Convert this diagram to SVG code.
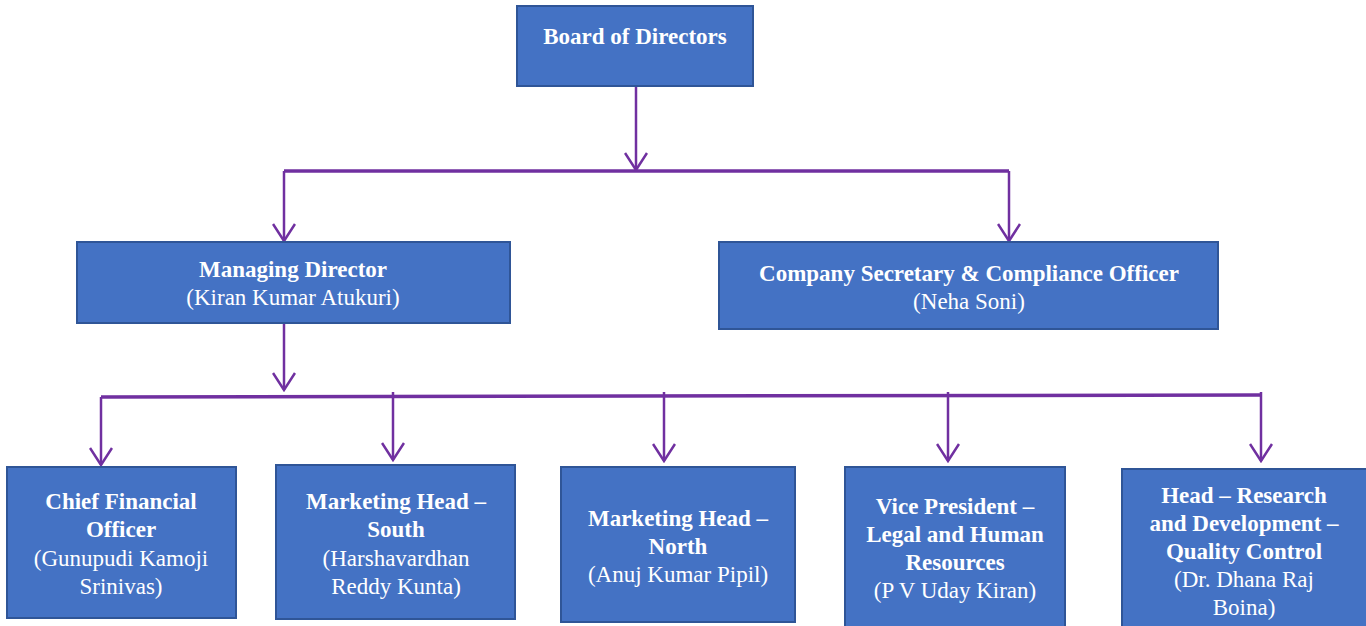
<svg xmlns="http://www.w3.org/2000/svg" width="1366" height="626" viewBox="0 0 1366 626" font-family="Liberation Serif, Times New Roman, serif">
<style>
.box{fill:#4472C4;stroke:#2F5597;stroke-width:2}
.t{font-size:23px;fill:#FFFFFF;text-anchor:middle}
.b{font-weight:bold}
.c{fill:none;stroke:#7030A0;stroke-width:2.5}
.h{fill:none;stroke:#7030A0;stroke-width:3.5}
</style>
<defs>
<marker id="arr" viewBox="0 0 20 24" markerWidth="20" markerHeight="24" refX="18" refY="12" orient="auto" markerUnits="userSpaceOnUse">
<polyline points="1,1 18,12 1,23" fill="none" stroke="#7030A0" stroke-width="2.5"/>
</marker>
</defs>
<rect width="1366" height="626" fill="#FFFFFF"/>
<g id="connectors">
<line class="c" x1="636" y1="86" x2="636" y2="170" marker-end="url(#arr)"/>
<line class="h" x1="284" y1="171" x2="1009" y2="171"/>
<line class="c" x1="284" y1="171" x2="284" y2="241" marker-end="url(#arr)"/>
<line class="c" x1="1009" y1="171" x2="1009" y2="241" marker-end="url(#arr)"/>
<line class="c" x1="284" y1="323" x2="284" y2="390" marker-end="url(#arr)"/>
<line class="h" x1="101" y1="397" x2="1261" y2="395"/>
<line class="c" x1="101" y1="397" x2="101" y2="465" marker-end="url(#arr)"/>
<line class="c" x1="393" y1="392" x2="393" y2="460" marker-end="url(#arr)"/>
<line class="c" x1="664" y1="392" x2="664" y2="461" marker-end="url(#arr)"/>
<line class="c" x1="948" y1="392" x2="948" y2="461" marker-end="url(#arr)"/>
<line class="c" x1="1261" y1="392" x2="1261" y2="461" marker-end="url(#arr)"/>
</g>
<g id="board">
<rect class="box" x="517" y="6" width="236" height="80"/>
<text class="t b" x="635" y="44">Board of Directors</text>
</g>
<g id="md">
<rect class="box" x="77" y="242" width="433" height="81"/>
<text class="t b" x="293" y="277">Managing Director</text>
<text class="t" x="293" y="305">(Kiran Kumar Atukuri)</text>
</g>
<g id="cs">
<rect class="box" x="719" y="242" width="499" height="87"/>
<text class="t b" x="969" y="281">Company Secretary &amp; Compliance Officer</text>
<text class="t" x="969" y="309">(Neha Soni)</text>
</g>
<g id="cfo">
<rect class="box" x="7" y="467" width="229" height="151"/>
<text class="t b" x="121" y="509">Chief Financial</text>
<text class="t b" x="121" y="537">Officer</text>
<text class="t" x="121" y="566">(Gunupudi Kamoji</text>
<text class="t" x="121" y="594">Srinivas)</text>
</g>
<g id="mhs">
<rect class="box" x="276" y="465" width="239" height="154"/>
<text class="t b" x="396" y="509">Marketing Head –</text>
<text class="t b" x="396" y="537">South</text>
<text class="t" x="396" y="566">(Harshavardhan</text>
<text class="t" x="396" y="594">Reddy Kunta)</text>
</g>
<g id="mhn">
<rect class="box" x="561" y="467" width="234" height="155"/>
<text class="t b" x="678" y="526">Marketing Head –</text>
<text class="t b" x="678" y="554">North</text>
<text class="t" x="678" y="582">(Anuj Kumar Pipil)</text>
</g>
<g id="vp">
<rect class="box" x="845" y="467" width="220" height="165"/>
<text class="t b" x="955" y="514">Vice President –</text>
<text class="t b" x="955" y="542">Legal and Human</text>
<text class="t b" x="955" y="570">Resources</text>
<text class="t" x="955" y="598">(P V Uday Kiran)</text>
</g>
<g id="rd">
<rect class="box" x="1122" y="469" width="250" height="165"/>
<text class="t b" x="1244" y="503">Head – Research</text>
<text class="t b" x="1244" y="531">and Development –</text>
<text class="t b" x="1244" y="559">Quality Control</text>
<text class="t" x="1244" y="587">(Dr. Dhana Raj</text>
<text class="t" x="1244" y="615">Boina)</text>
</g>
</svg>
